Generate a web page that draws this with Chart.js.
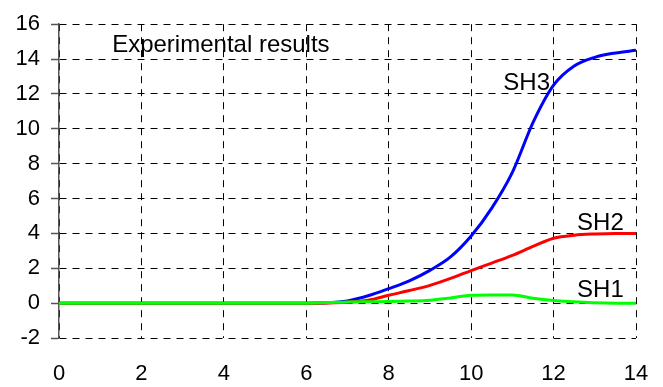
<!DOCTYPE html>
<html>
<head>
<meta charset="utf-8">
<script src="https://cdn.jsdelivr.net/npm/chart.js@4.4.0/dist/chart.umd.min.js"></script>
<style>
  html, body { margin: 0; padding: 0; background: #fff; }
  #wrap { width: 663px; height: 387px; position: relative; }
</style>
</head>
<body>
<div id="wrap"><canvas id="c" width="663" height="387"></canvas></div>
<script>
// ---- data ----
const xValues = [0, 1, 2, 3, 4, 5, 6, 6.5, 7, 7.5, 8, 8.5, 9, 9.5, 10, 10.5, 11, 11.5, 12, 12.5, 13, 13.5, 14];
const sh3 = [0, 0, 0, 0, 0, 0, 0, 0.02, 0.13, 0.42, 0.83, 1.28, 1.88, 2.65, 3.85, 5.45, 7.5, 10.35, 12.5, 13.6, 14.1, 14.35, 14.5];
const sh2 = [0, 0, 0, 0, 0, 0, 0, 0.01, 0.05, 0.16, 0.45, 0.72, 1.02, 1.42, 1.87, 2.3, 2.74, 3.25, 3.72, 3.9, 3.97, 4.0, 4.0];
const sh1 = [0, 0, 0, 0, 0, 0, 0, 0.03, 0.07, 0.08, 0.09, 0.12, 0.17, 0.3, 0.45, 0.47, 0.47, 0.28, 0.15, 0.08, 0.02, 0.0, 0.0];
const seriesNames = ['SH1', 'SH2', 'SH3'];
const xTicks = [0, 2, 4, 6, 8, 10, 12, 14];
const yTicks = [-2, 0, 2, 4, 6, 8, 10, 12, 14, 16];
const titleText = 'Experimental results';

// annotation anchors (data units, text left/baseline)
const annotations = [
  { text: titleText, x: 1.29, y: 14.43 },
  { text: 'SH3', x: 10.78, y: 12.25 },
  { text: 'SH2', x: 12.57, y: 4.2 },
  { text: 'SH1', x: 12.57, y: 0.36 }
];

const FONT = "'Liberation Sans', Arial, sans-serif";
const toPts = arr => arr.map((v, i) => ({ x: xValues[i], y: v }));

const annotationPlugin = {
  id: 'annots',
  afterDatasetsDraw(chart) {
    const ctx = chart.ctx;
    const xs = chart.scales.x, ys = chart.scales.y;
    ctx.save();
    ctx.fillStyle = '#000';
    ctx.textAlign = 'left';
    ctx.textBaseline = 'alphabetic';
    annotations.forEach(a => {
      ctx.font = '24px ' + FONT;
      ctx.fillText(a.text, xs.getPixelForValue(a.x), ys.getPixelForValue(a.y));
    });
    ctx.restore();
  }
};

new Chart(document.getElementById('c'), {
  type: 'line',
  data: {
    datasets: [
      { label: seriesNames[0], data: toPts(sh1), borderColor: '#00ff00', borderWidth: 3, pointRadius: 0, cubicInterpolationMode: 'monotone', fill: false },
      { label: seriesNames[1], data: toPts(sh2), borderColor: '#ff0000', borderWidth: 3, pointRadius: 0, cubicInterpolationMode: 'monotone', fill: false },
      { label: seriesNames[2], data: toPts(sh3), borderColor: '#0000ff', borderWidth: 3, pointRadius: 0, cubicInterpolationMode: 'monotone', fill: false }
    ]
  },
  options: {
    responsive: false,
    animation: false,
    layout: { padding: { top: 23, right: 27, left: 0, bottom: 0 } },
    plugins: { legend: { display: false }, tooltip: { enabled: false } },
    scales: {
      x: {
        type: 'linear', min: 0, max: 14,
        afterBuildTicks: s => { s.ticks = xTicks.map(v => ({ value: v })); },
        afterFit: s => { s.height = 49; },
        ticks: { color: '#000', font: { family: FONT, size: 22 }, padding: 0, maxRotation: 0 },
        grid: { color: '#000', lineWidth: 1, drawTicks: true, tickLength: 23, tickColor: 'rgba(0,0,0,0)' },
        border: { display: false, dash: [7, 6] }
      },
      y: {
        type: 'linear', min: -2, max: 16,
        afterBuildTicks: s => { s.ticks = yTicks.map(v => ({ value: v })); },
        afterFit: s => { s.width = 59; },
        ticks: { color: '#000', font: { family: FONT, size: 22 }, padding: 11 },
        grid: { color: '#000', lineWidth: 1, drawTicks: true, tickLength: 8, tickColor: '#555', tickWidth: 1.5 },
        border: { display: true, color: '#555', width: 1.5, dash: [7, 6] }
      }
    }
  },
  plugins: [annotationPlugin]
});
</script>
</body>
</html>
